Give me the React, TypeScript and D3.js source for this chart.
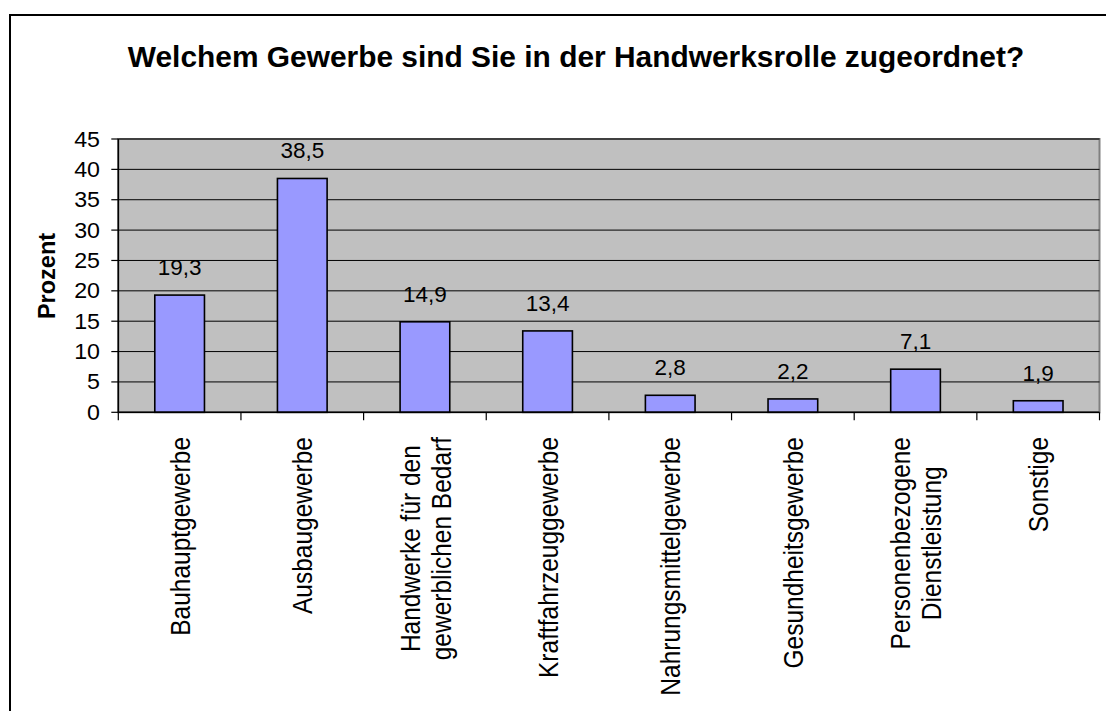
import React, { useEffect, useRef } from "react";
import * as d3 from "d3";

const categories: string[][] = [
  ["Bauhauptgewerbe"],
  ["Ausbaugewerbe"],
  ["Handwerke für den", "gewerblichen Bedarf"],
  ["Kraftfahrzeuggewerbe"],
  ["Nahrungsmittelgewerbe"],
  ["Gesundheitsgewerbe"],
  ["Personenbezogene", "Dienstleistung"],
  ["Sonstige"],
];
const values: number[] = [19.3, 38.5, 14.9, 13.4, 2.8, 2.2, 7.1, 1.9];
const yTicks: number[] = [0, 5, 10, 15, 20, 25, 30, 35, 40, 45];
const title = "Welchem Gewerbe sind Sie in der Handwerksrolle zugeordnet?";
const yTitle = "Prozent";

const W = 1106;
const H = 711;
const FONT = "'Liberation Sans', Arial, Helvetica, sans-serif";

export default function App() {
  const ref = useRef<SVGSVGElement | null>(null);

  useEffect(() => {
    const svg = d3.select(ref.current);
    svg.selectAll("*").remove();

    const left = 118.3, right = 1099.5, top = 139, bottom = 412.3;
    const keys = categories.map((c) => c.join(" "));
    const x = d3.scaleBand<string>().domain(keys).range([left, right]).padding(0);
    const y = d3.scaleLinear().domain([0, 45]).range([bottom, top]);

    // outer frame
    svg.append("rect").attr("x", 10).attr("y", 15).attr("width", 1200).attr("height", 900)
      .attr("fill", "white").attr("stroke", "black").attr("stroke-width", 2);

    // title
    svg.append("text").attr("x", 576).attr("y", 67).attr("text-anchor", "middle")
      .attr("font-family", FONT).attr("font-weight", "bold").attr("font-size", 29.9)
      .attr("fill", "black").text(title);

    // plot area
    svg.append("rect").attr("x", left).attr("y", top).attr("width", right - left)
      .attr("height", bottom - top).attr("fill", "#C0C0C0")
      .attr("stroke", "#808080").attr("stroke-width", 2);

    // gridlines
    svg.append("g").selectAll("line").data(yTicks.filter((t) => t > 0)).join("line")
      .attr("x1", left).attr("x2", right)
      .attr("y1", (d) => y(d)).attr("y2", (d) => y(d))
      .attr("stroke", "black").attr("stroke-width", 1);

    // bars
    const bw = x.bandwidth() * 0.405;
    svg.append("g").selectAll("rect").data(values).join("rect")
      .attr("x", (d, i) => (x(keys[i]) as number) + x.bandwidth() / 2 - bw / 2)
      .attr("y", (d) => y(d))
      .attr("width", bw)
      .attr("height", (d) => y(0) - y(d))
      .attr("fill", "#9999FF").attr("stroke", "black").attr("stroke-width", 1.6);

    // data labels
    svg.append("g").selectAll("text").data(values).join("text")
      .attr("x", (d, i) => (x(keys[i]) as number) + x.bandwidth() / 2)
      .attr("y", (d) => y(d) - 20)
      .attr("text-anchor", "middle").attr("font-family", FONT).attr("font-size", 22.5)
      .attr("fill", "black")
      .text((d) => d.toFixed(1).replace(".", ","));

    // y axis
    svg.append("line").attr("x1", left).attr("x2", left).attr("y1", top).attr("y2", bottom)
      .attr("stroke", "black").attr("stroke-width", 1.5);
    svg.append("g").selectAll("line").data(yTicks).join("line")
      .attr("x1", left - 7).attr("x2", left).attr("y1", (d) => y(d)).attr("y2", (d) => y(d))
      .attr("stroke", "black").attr("stroke-width", 1.2);
    svg.append("g").selectAll("text").data(yTicks).join("text")
      .attr("transform", (d) => `translate(100,${y(d) + 7.5}) scale(1.08,1)`)
      .attr("text-anchor", "end")
      .attr("font-family", FONT).attr("font-size", 21.5).attr("fill", "black")
      .text((d) => String(d));

    // y title
    svg.append("text").attr("transform", "translate(55,276) rotate(-90)")
      .attr("text-anchor", "middle").attr("font-family", FONT).attr("font-weight", "bold")
      .attr("font-size", 23.5).attr("fill", "black").text(yTitle);

    // x axis
    svg.append("line").attr("x1", left).attr("x2", right).attr("y1", bottom).attr("y2", bottom)
      .attr("stroke", "black").attr("stroke-width", 1.5);
    const bounds = keys.map((k) => x(k) as number).concat([right]);
    svg.append("g").selectAll("line").data(bounds).join("line")
      .attr("x1", (d) => d).attr("x2", (d) => d).attr("y1", bottom).attr("y2", bottom + 8)
      .attr("stroke", "black").attr("stroke-width", 1.2);

    // category labels (rotated, lines centered)
    const fs = 24.5, lh = 27, sx = 1.15, labelTop = 437;
    categories.forEach((lines, i) => {
      const cx = (x(keys[i]) as number) + x.bandwidth() / 2;
      const g = svg.append("g")
        .attr("transform", `translate(${cx},${labelTop}) scale(${sx},1) rotate(-90)`);
      const texts = lines.map((ln, j) =>
        g.append("text").attr("font-family", FONT).attr("font-size", fs)
          .attr("fill", "black").attr("text-anchor", "middle")
          .attr("y", (j - (lines.length - 1) / 2) * lh + fs * 0.36)
          .text(ln)
      );
      const maxLen = d3.max(texts, (t) => (t.node() as SVGTextElement).getComputedTextLength()) || 0;
      texts.forEach((t) => t.attr("x", -maxLen / 2));
    });
  }, []);

  return (
    <svg ref={ref} width={W} height={H}
      style={{ position: "absolute", left: 0, top: 0, background: "white" }} />
  );
}
